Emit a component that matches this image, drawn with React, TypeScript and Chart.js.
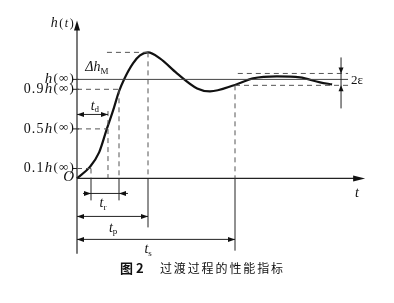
import React, { useEffect, useRef } from "react";
import { Chart, registerables } from "chart.js";

Chart.register(...registerables);

// Step response h(t) (time in arbitrary units, h relative to h(∞))
const tValues = [0, 0.46, 0.79, 1.06, 1.29, 1.5, 1.68, 2.0, 2.25, 2.54, 2.96, 3.57, 4.29, 4.75, 5.64, 6.29, 7.14, 7.96, 8.68, 9.11];
const hValues = [0, 0.116, 0.263, 0.495, 0.687, 0.879, 1.0, 1.162, 1.242, 1.273, 1.212, 1.061, 0.909, 0.879, 0.944, 1.01, 1.03, 1.02, 0.97, 0.949];

// Reference levels on the h axis
const levelValues = [1, 0.9, 0.5, 0.1];
const levelLabels = ["h(∞)", "0.9h(∞)", "0.5h(∞)", "0.1h(∞)"];

// Characteristic times: t(0.1), td, t(0.9), tp, ts
const markerTimes = [0.5, 1.107, 1.5, 2.536, 5.643];
const peakValue = 1.273;
const epsilon = 0.06;

const captionNumber = "图2";
const captionText = "过渡过程的性能指标";

const SERIF = '"Liberation Serif", "DejaVu Serif", serif';
const CJK = '"Noto Sans CJK SC", sans-serif';

type Part = [string, string, number?];

function arrowHead(ctx: CanvasRenderingContext2D, x: number, y: number, dx: number, dy: number, len = 7, half = 2.5) {
  ctx.beginPath();
  ctx.moveTo(x, y);
  ctx.lineTo(x - dx * len - dy * half, y - dy * len + dx * half);
  ctx.lineTo(x - dx * len + dy * half, y - dy * len - dx * half);
  ctx.closePath();
  ctx.fill();
}

function rich(ctx: CanvasRenderingContext2D, parts: Part[], x: number, y: number, align: "left" | "right" | "center", spacing = 0) {
  (ctx as any).letterSpacing = spacing + "px";
  let w = 0;
  for (const [t, f] of parts) {
    ctx.font = f;
    w += ctx.measureText(t).width;
  }
  let cur = align === "right" ? x - w : align === "center" ? x - w / 2 : x;
  ctx.textAlign = "left";
  for (const [t, f, dy] of parts) {
    ctx.font = f;
    ctx.fillText(t, cur, y + (dy || 0));
    cur += ctx.measureText(t).width;
  }
  (ctx as any).letterSpacing = "0px";
}

function levelParts(label: string): Part[] {
  const i = label.indexOf("h");
  const parts: Part[] = [];
  if (i > 0) parts.push([label.slice(0, i), `14px ${SERIF}`]);
  parts.push(["h", `italic 15px ${SERIF}`]);
  parts.push([label.slice(i + 1), `13px ${SERIF}`, -1]);
  return parts;
}

const figurePlugin = {
  id: "figure",
  beforeDraw(chart: any) {
    const c = chart.ctx;
    c.save();
    c.fillStyle = "#fff";
    c.fillRect(0, 0, chart.width, chart.height);
    c.restore();
  },
  afterDatasetsDraw(chart: any) {
    const ctx: CanvasRenderingContext2D = chart.ctx;
    const xs = chart.scales.x;
    const ys = chart.scales.y;
    const X = (v: number) => xs.getPixelForValue(v);
    const Y = (v: number) => ys.getPixelForValue(v);
    const [t01, td, t09, tp, ts] = markerTimes;
    const D = [5, 4];

    ctx.save();
    const line = (x1: number, y1: number, x2: number, y2: number, dash: number[] | null = null, color = "#222", w = 1) => {
      ctx.beginPath();
      ctx.setLineDash(dash || []);
      ctx.strokeStyle = color;
      ctx.lineWidth = w;
      ctx.moveTo(x1, y1);
      ctx.lineTo(x2, y2);
      ctx.stroke();
      ctx.setLineDash([]);
    };
    ctx.fillStyle = "#111";

    // axes
    line(X(0), Y(-0.76), X(0), Y(1.596) + 6, null, "#222", 1.2);
    arrowHead(ctx, X(0), Y(1.596), 0, -1, 10, 3);
    line(X(0), Y(0), X(10.29) - 6, Y(0), null, "#222", 1.2);
    arrowHead(ctx, X(10.29), Y(0), 1, 0, 12, 3);

    // level ticks on the h axis
    for (const v of levelValues) line(X(0) - 4, Y(v), X(0) + 2, Y(v), null, "#222", 1);

    // h(∞) line
    line(X(0), Y(1), X(9.68), Y(1), null, "#444", 1);

    // dashed guides
    const g = "#555";
    line(X(0), Y(0.1), X(t01), Y(0.1), D, g);
    line(X(0), Y(0.5), X(td), Y(0.5), D, g);
    line(X(0), Y(0.9), X(t09), Y(0.9), D, g);
    line(X(1.07), Y(peakValue), X(tp), Y(peakValue), D, g);
    line(X(t01), Y(0.1), X(t01), Y(0), D, g);
    line(X(td), Y(0.68), X(td), Y(0), D, g);
    line(X(t09), Y(0.9), X(t09), Y(0), D, g);
    line(X(tp), Y(peakValue), X(tp), Y(0), D, g);
    line(X(ts), Y(1 - epsilon), X(ts), Y(0), D, g);
    line(X(ts + 0.1), Y(1 + epsilon), X(9.68), Y(1 + epsilon), D, g);
    line(X(ts), Y(1 - epsilon), X(9.68), Y(1 - epsilon), D, g);

    // solid drops below the time axis
    line(X(t01), Y(0), X(t01), Y(-0.222));
    line(X(t09), Y(0), X(t09), Y(-0.222));
    line(X(tp), Y(0), X(tp), Y(-0.495));
    line(X(ts), Y(0), X(ts), Y(-0.73));

    // td arrow
    const yd = Y(0.646);
    line(X(0), yd, X(td), yd);
    arrowHead(ctx, X(0), yd, -1, 0);
    arrowHead(ctx, X(td), yd, 1, 0);

    // tr arrows (pointing inward)
    const yr = Y(-0.152);
    line(X(0.214), yr, X(1.82), yr);
    arrowHead(ctx, X(t01), yr, 1, 0);
    arrowHead(ctx, X(t09), yr, -1, 0);

    // tp arrow
    const yp = Y(-0.384);
    line(X(0), yp, X(tp), yp);
    arrowHead(ctx, X(0), yp, -1, 0);
    arrowHead(ctx, X(tp), yp, 1, 0);

    // ts arrow
    const ysA = Y(-0.616);
    line(X(0), ysA, X(ts), ysA);
    arrowHead(ctx, X(0), ysA, -1, 0);
    arrowHead(ctx, X(ts), ysA, 1, 0);

    // 2ε marker
    const xe = X(9.43);
    line(xe, Y(1.222), xe, Y(0.707));
    arrowHead(ctx, xe, Y(1 + epsilon), 0, 1, 6, 2.5);
    arrowHead(ctx, xe, Y(1 - epsilon), 0, -1, 6, 2.5);

    // texts
    ctx.fillStyle = "#111";
    ctx.textBaseline = "middle";
    levelValues.forEach((v, i) => {
      rich(ctx, levelParts(levelLabels[i]), X(0) - 2, Y(v), "right", 1.2);
    });
    rich(ctx, [["O", `italic 15px ${SERIF}`]], X(0) - 3, Y(0) - 1, "right");
    rich(ctx, [["h", `italic 14px ${SERIF}`], ["(", `12px ${SERIF}`], ["t", `italic 12px ${SERIF}`], [")", `12px ${SERIF}`]], X(-0.5), Y(1.566), "center", 1.5);
    rich(ctx, [["Δh", `italic 14px ${SERIF}`], ["M", `9px ${SERIF}`, 4]], X(0.71), Y(1.12), "center");
    rich(ctx, [["t", `italic 14px ${SERIF}`], ["d", `9px ${SERIF}`, 4]], X(0.64), Y(0.73), "center");
    rich(ctx, [["t", `italic 14px ${SERIF}`], ["r", `9px ${SERIF}`, 4]], X(0.93), Y(-0.25), "center");
    rich(ctx, [["t", `italic 14px ${SERIF}`], ["p", `9px ${SERIF}`, 4]], X(1.29), Y(-0.5), "center");
    rich(ctx, [["t", `italic 14px ${SERIF}`], ["s", `9px ${SERIF}`, 4]], X(2.54), Y(-0.72), "center");
    rich(ctx, [["t", `italic 14px ${SERIF}`]], X(10), Y(-0.152), "center");
    rich(ctx, [["2ε", `13px ${SERIF}`]], X(9.79), Y(0.99), "left");

    // caption
    const cy = Y(-0.909);
    ctx.textAlign = "left";
    ctx.font = `bold 13px ${CJK}`;
    (ctx as any).letterSpacing = "3px";
    ctx.fillText(captionNumber, X(1.536), cy);
    (ctx as any).letterSpacing = "0px";
    ctx.font = `12px ${CJK}`;
    const x0 = X(2.96);
    const step = (X(7.36) - x0 - 12) / (captionText.length - 1);
    Array.from(captionText).forEach((ch, i) => ctx.fillText(ch, x0 + i * step, cy));

    ctx.restore();
  },
};

export default function App() {
  const ref = useRef<HTMLCanvasElement>(null);
  useEffect(() => {
    const chart = new Chart(ref.current as HTMLCanvasElement, {
      type: "line",
      data: {
        datasets: [
          {
            data: tValues.map((t, i) => ({ x: t, y: hValues[i] })),
            borderColor: "#111",
            borderWidth: 2.2,
            pointRadius: 0,
            cubicInterpolationMode: "monotone",
            fill: false,
            clip: false as any,
          },
        ],
      },
      options: {
        animation: false,
        responsive: false,
        events: [],
        layout: { padding: { left: 77, right: 37, top: 20, bottom: 25.6 } },
        plugins: { legend: { display: false }, tooltip: { enabled: false } },
        scales: {
          x: { type: "linear", min: 0, max: 10, display: false },
          y: { type: "linear", min: -1, max: 1.6, display: false },
        },
      },
      plugins: [figurePlugin as any],
    });
    return () => chart.destroy();
  }, []);
  return (
    <div style={{ position: "fixed", left: 0, top: 0, width: 394, height: 303, background: "#fff" }}>
      <canvas ref={ref} width={394} height={303} style={{ display: "block" }} />
    </div>
  );
}
